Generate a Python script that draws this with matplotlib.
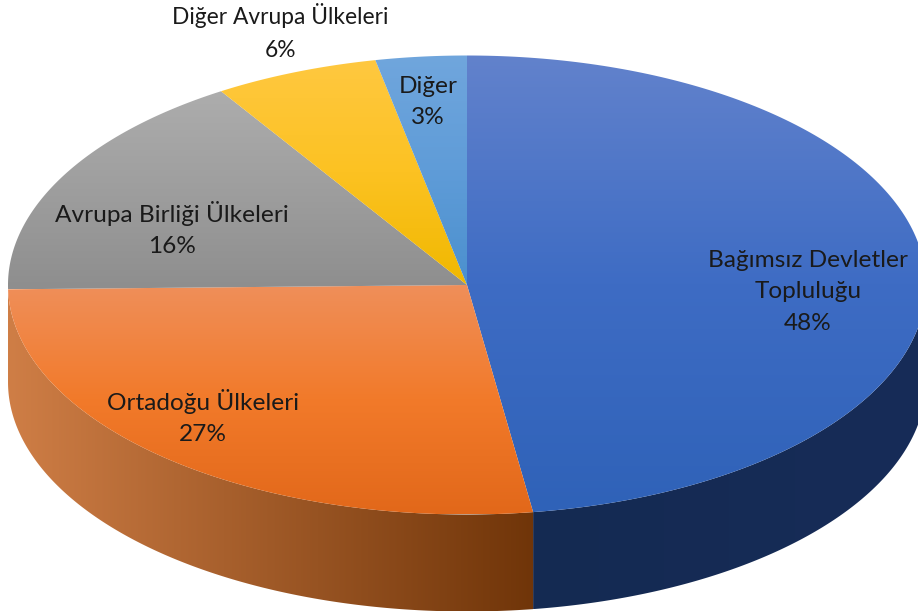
import numpy as np
import matplotlib
matplotlib.use('Agg')
import matplotlib.pyplot as plt
from matplotlib.patches import Polygon
from matplotlib.colors import LinearSegmentedColormap

categories = ['Bağımsız Devletler\nTopluluğu', 'Ortadoğu Ülkeleri', 'Avrupa Birliği Ülkeleri',
              'Diğer Avrupa Ülkeleri', 'Diğer']
# labels round these, the unrounded values come from the slice edges
values = [47.7, 27.0, 16.3, 5.8, 3.2]

top_colors = [('#6282cc', '#3e6cc4', '#2f62b8'), ('#ef8f5a', '#f27a2a', '#e2681a'), ('#adadad', '#9e9e9e', '#8e8e8e'),
              ('#ffc840', '#fcc222', '#f0b800'), ('#70a6dd', '#5f9cd8', '#4b90ce')]
side_colors = [('#172c58', '#142a52'), ('#cf7e46', '#703509')]
label_pos = [(808, 292), (203, 417), (172, 229), (280, 32), (428, 102)]
label_size = [17.6, 17.6, 17.6, 16.4, 17.6]

CX, CY = 467, 285
RX, RY = 459, 229.5
DEPTH = 97


def rim(a0, a1, dy=0):
    t = np.radians(np.linspace(a0, a1, 200))
    return np.column_stack([CX + RX * np.sin(t), CY - RY * np.cos(t) + dy])


def fill_gradient(ax, pts, colors, vertical=True):
    cmap = LinearSegmentedColormap.from_list('g', colors)
    grad = np.linspace(0, 1, 256)
    grad = grad[:, None] if vertical else grad[None, :]
    x0, y0 = pts.min(axis=0)
    x1, y1 = pts.max(axis=0)
    im = ax.imshow(grad, cmap=cmap, extent=(x0, x1, y1, y0), aspect='auto', zorder=2, interpolation='bilinear')
    patch = Polygon(pts, closed=True, transform=ax.transData, fc='none', ec='none')
    ax.add_patch(patch)
    im.set_clip_path(patch)


fig = plt.figure(figsize=(9.18, 6.11), dpi=100)
ax = fig.add_axes([0, 0, 1, 1])

angles = np.concatenate([[0], np.cumsum(values)]) * 360 / sum(values)

# side walls, only the front half of the pie shows
for i, (a0, a1) in enumerate([(90, angles[1]), (angles[1], 270)]):
    pts = np.vstack([rim(a0, a1), rim(a1, a0, DEPTH)])
    # blue wall runs right to left, so flip its colours for the left to right image
    fill_gradient(ax, pts, side_colors[i][::-1] if i == 0 else side_colors[i], vertical=False)

for i in range(len(values)):
    pts = np.vstack([[CX, CY], rim(angles[i], angles[i + 1])])
    fill_gradient(ax, pts, top_colors[i])

for name, v, (x, y), size in zip(categories, values, label_pos, label_size):
    ax.text(x, y, f'{name}\n{round(v)}%', ha='center', va='center', fontsize=size, family='Lato',
            color='#1a1a1a', linespacing=28 / size, zorder=5)

ax.set_xlim(0, 918)
ax.set_ylim(611, 0)
ax.axis('off')
fig.savefig('out.png', dpi=100)
